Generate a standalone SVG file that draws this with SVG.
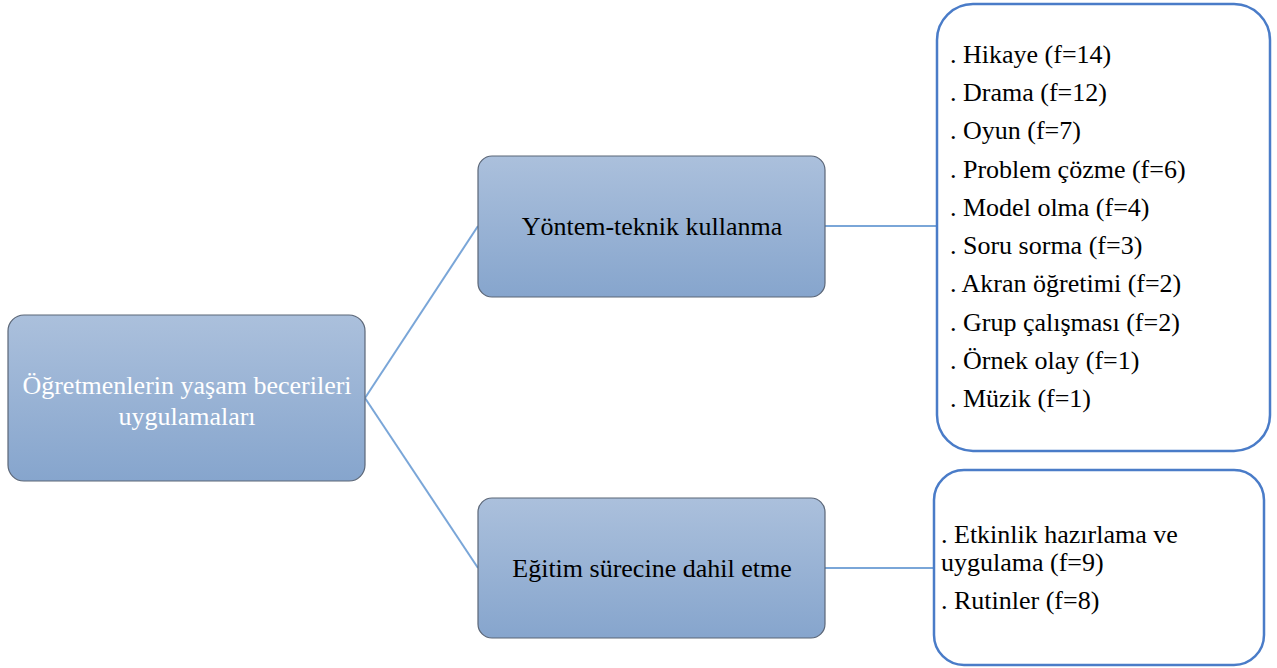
<svg xmlns="http://www.w3.org/2000/svg" width="1277" height="668" viewBox="0 0 1277 668">
<defs>
<linearGradient id="g" x1="0" y1="0" x2="0" y2="1">
<stop offset="0" stop-color="#abc0dc"/>
<stop offset="1" stop-color="#86a5cd"/>
</linearGradient>
</defs>
<style>
.box{fill:url(#g);stroke:#5b6677;stroke-width:1.2}
.list{fill:#fff;stroke:#4a7cc8;stroke-width:2.5}
.t{font-family:"Liberation Serif","Times New Roman",serif;font-size:26px;fill:#000}
.w{fill:#fff}
.c{text-anchor:middle}
.con{stroke:#7aa6d8;stroke-width:2;fill:none}
</style>
<rect width="1277" height="668" fill="#fff"/>
<g id="connectors">
<line class="con" x1="365" y1="398" x2="478" y2="226"/>
<line class="con" x1="365" y1="398" x2="478" y2="568"/>
<line class="con" x1="825" y1="226" x2="938" y2="226"/>
<line class="con" x1="825" y1="568" x2="934" y2="568"/>
</g>
<g id="root">
<rect class="box" x="8" y="315" width="357" height="166" rx="16"/>
<text class="t w c" x="187" y="394">Öğretmenlerin yaşam becerileri</text>
<text class="t w c" x="187" y="425">uygulamaları</text>
</g>
<g id="yontem">
<rect class="box" x="478" y="156" width="347" height="141" rx="14"/>
<text class="t c" x="652" y="235">Yöntem-teknik kullanma</text>
</g>
<g id="egitim">
<rect class="box" x="478" y="498" width="347" height="140" rx="14"/>
<text class="t c" x="652" y="577">Eğitim sürecine dahil etme</text>
</g>
<g id="list1">
<rect class="list" x="937" y="4" width="333" height="447" rx="36"/>
<text class="t" x="950" y="63">. Hikaye (f=14)</text>
<text class="t" x="950" y="101">. Drama (f=12)</text>
<text class="t" x="950" y="139">. Oyun (f=7)</text>
<text class="t" x="950" y="178">. Problem çözme (f=6)</text>
<text class="t" x="950" y="216">. Model olma (f=4)</text>
<text class="t" x="950" y="254">. Soru sorma (f=3)</text>
<text class="t" x="950" y="292">. Akran öğretimi (f=2)</text>
<text class="t" x="950" y="331">. Grup çalışması (f=2)</text>
<text class="t" x="950" y="369">. Örnek olay (f=1)</text>
<text class="t" x="950" y="407">. Müzik (f=1)</text>
</g>
<g id="list2">
<rect class="list" x="934" y="470" width="330" height="195" rx="30"/>
<text class="t" x="941" y="543">. Etkinlik hazırlama ve</text>
<text class="t" x="941" y="571">uygulama (f=9)</text>
<text class="t" x="941" y="609">. Rutinler (f=8)</text>
</g>
</svg>
